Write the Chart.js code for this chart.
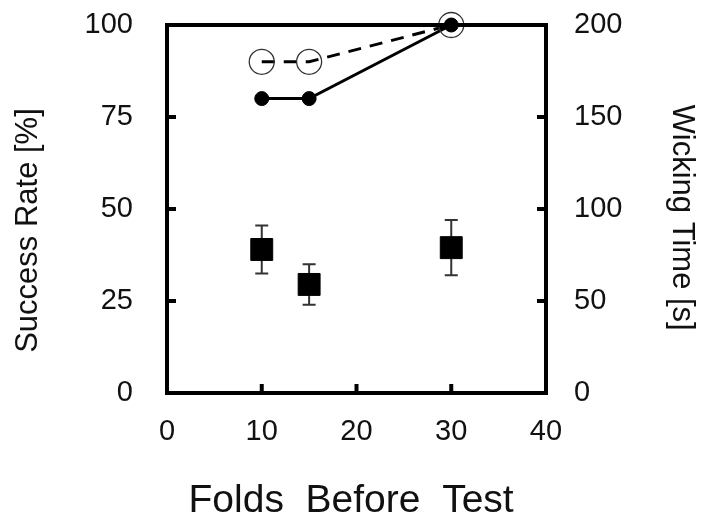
<!DOCTYPE html>
<html>
<head>
<meta charset="utf-8">
<script src="https://cdn.jsdelivr.net/npm/chart.js@4"></script>
<style>
html,body{margin:0;padding:0;background:#fff;}
#wrap{width:701px;height:521px;}
</style>
</head>
<body>
<div id="wrap"><canvas id="c" width="701" height="521"></canvas></div>
<script>
// ---- data ----
const folds = [10, 15, 30];
const successSolid = [80, 80, 100];      // % (left axis), filled circles, solid line
const successDashed = [90, 90, 100];     // % (left axis), open circles, dashed line
const wickingTime = [78, 59, 79];        // s (right axis), squares
const wickingErr = [13, 11, 15];         // s, error bar half-length
const xTicks = [0, 10, 20, 30, 40];
const leftTicks = [0, 25, 50, 75, 100];
const rightTicks = [0, 50, 100, 150, 200];

const FONT = "'Liberation Sans', Arial, sans-serif";
const toPts = (ys) => folds.map((x, i) => ({x: x, y: ys[i]}));

const frameAndTicks = {
  id: 'frameAndTicks',
  afterDraw(chart) {
    const {ctx, chartArea: a, scales} = chart;
    ctx.save();
    ctx.strokeStyle = '#000';
    ctx.lineWidth = 4;
    ctx.lineCap = 'butt';
    const tl = 9;
    ctx.beginPath();
    xTicks.slice(1, -1).forEach(v => {
      const px = scales.x.getPixelForValue(v);
      ctx.moveTo(px, a.bottom); ctx.lineTo(px, a.bottom - tl);
    });
    leftTicks.slice(1, -1).forEach(v => {
      const py = scales.y.getPixelForValue(v);
      ctx.moveTo(a.left, py); ctx.lineTo(a.left + tl, py);
    });
    rightTicks.slice(1, -1).forEach(v => {
      const py = scales.y2.getPixelForValue(v);
      ctx.moveTo(a.right, py); ctx.lineTo(a.right - tl, py);
    });
    ctx.stroke();
    ctx.lineJoin = 'miter';
    ctx.strokeRect(a.left, a.top, a.right - a.left, a.bottom - a.top);
    ctx.restore();
  }
};

const errorBars = {
  id: 'errorBars',
  beforeDatasetsDraw(chart) {
    const {ctx, scales} = chart;
    ctx.save();
    ctx.strokeStyle = '#333';
    ctx.lineWidth = 2;
    const cap = 6.5;
    folds.forEach((f, i) => {
      const px = scales.x.getPixelForValue(f);
      const top = scales.y2.getPixelForValue(wickingTime[i] + wickingErr[i]);
      const bot = scales.y2.getPixelForValue(wickingTime[i] - wickingErr[i]);
      ctx.beginPath();
      ctx.moveTo(px, top); ctx.lineTo(px, bot);
      ctx.moveTo(px - cap, top); ctx.lineTo(px + cap, top);
      ctx.moveTo(px - cap, bot); ctx.lineTo(px + cap, bot);
      ctx.stroke();
    });
    ctx.restore();
  }
};

const hiddenTickGrid = (len) => ({
  display: true, drawOnChartArea: false, drawTicks: true,
  tickLength: len, tickColor: 'rgba(0,0,0,0)'
});

new Chart(document.getElementById('c'), {
  type: 'scatter',
  data: {
    datasets: [
      {
        label: 'Wicking Time',
        data: toPts(wickingTime),
        yAxisID: 'y2',
        pointStyle: 'rect',
        pointRadius: 15.5,
        backgroundColor: '#000',
        borderColor: '#000',
        borderWidth: 1,
        showLine: false,
        clip: false,
        order: 1
      },
      {
        label: 'Success Rate (solid)',
        data: toPts(successSolid),
        yAxisID: 'y',
        showLine: true,
        borderColor: '#000',
        borderWidth: 3,
        pointRadius: 7,
        pointBackgroundColor: '#000',
        pointBorderColor: '#000',
        pointBorderWidth: 1,
        clip: false,
        order: 3
      },
      {
        label: 'Success Rate (dashed)',
        data: toPts(successDashed),
        yAxisID: 'y',
        showLine: true,
        borderColor: '#000',
        borderWidth: 3,
        borderDash: [13, 9],
        pointRadius: 12.5,
        pointBackgroundColor: 'rgba(0,0,0,0)',
        pointBorderColor: '#333',
        pointBorderWidth: 1.3,
        clip: false,
        order: 2
      }
    ]
  },
  options: {
    responsive: false,
    animation: false,
    events: [],
    layout: {padding: {top: 25, left: 0, right: 0, bottom: 0}},
    plugins: {legend: {display: false}, tooltip: {enabled: false}},
    scales: {
      x: {
        type: 'linear', min: 0, max: 40,
        afterBuildTicks: (s) => { s.ticks = xTicks.map(v => ({value: v})); },
        afterFit: (s) => { s.height = 128; },
        grid: hiddenTickGrid(22),
        border: {display: false},
        ticks: {color: '#111', padding: 0, font: {family: FONT, size: 29}},
        title: {display: true, text: 'Folds  Before  Test ', color: '#111',
                font: {family: FONT, size: 39, lineHeight: 1}, padding: {top: 0, bottom: 0}}
      },
      y: {
        type: 'linear', position: 'left', min: 0, max: 100,
        afterBuildTicks: (s) => { s.ticks = leftTicks.map(v => ({value: v})); },
        afterFit: (s) => { s.width = 167; },
        grid: hiddenTickGrid(34),
        border: {display: false},
        ticks: {color: '#111', padding: 0, font: {family: FONT, size: 29}},
        title: {display: true, text: 'Success Rate [%]     ', color: '#111',
                font: {family: FONT, size: 31, lineHeight: 1}, padding: {top: 13, bottom: 0}}
      },
      y2: {
        type: 'linear', position: 'right', min: 0, max: 200,
        afterBuildTicks: (s) => { s.ticks = rightTicks.map(v => ({value: v})); },
        afterFit: (s) => { s.width = 155; },
        grid: hiddenTickGrid(28),
        border: {display: false},
        ticks: {color: '#111', padding: 0, font: {family: FONT, size: 29}},
        title: {display: true, text: '  Wicking Time [s]', color: '#111',
                font: {family: FONT, size: 31, lineHeight: 1}, padding: {top: 4, bottom: 0}}
      }
    }
  },
  plugins: [errorBars, frameAndTicks]
});
</script>
</body>
</html>
